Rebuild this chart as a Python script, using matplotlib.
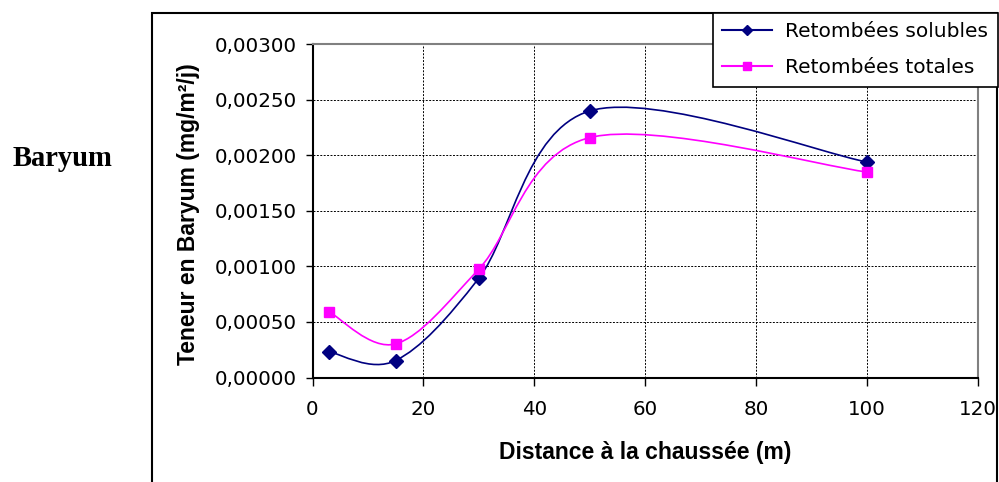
import numpy as np
import matplotlib.pyplot as plt
from matplotlib.path import Path
from matplotlib.patches import PathPatch, Rectangle
from matplotlib.lines import Line2D
from matplotlib.ticker import FuncFormatter, MultipleLocator

plt.rcParams['font.family'] = ['DejaVu Sans']

# donnees
distance = [3, 15, 30, 50, 100]
solubles = [0.000231, 0.000153, 0.000895, 0.00240, 0.00194]
totales = [0.000591, 0.000303, 0.000976, 0.00216, 0.00185]
labels = ["Retombées solubles", "Retombées totales"]
col_sol = "#000080"
col_tot = "#FF00FF"


def smooth_path(x, y):
    # courbe lissee type Excel (Bezier cubique)
    p = np.column_stack([x, y])
    n = len(p)
    verts = [p[0]]
    codes = [Path.MOVETO]
    for i in range(n - 1):
        p0 = p[max(i - 1, 0)]
        p3 = p[min(i + 2, n - 1)]
        c1 = p[i] + (p[i + 1] - p0) / 6
        c2 = p[i + 1] - (p3 - p[i]) / 6
        verts += [c1, c2, p[i + 1]]
        codes += [Path.CURVE4] * 3
    return Path(verts, codes)


W, H = 999, 482
fig = plt.figure(figsize=(W / 100, H / 100), dpi=100)
ax = fig.add_axes([312.5 / W, 1 - 377.5 / H, (978 - 312.5) / W, (377.5 - 44.3) / H])

for yv, col, mk, ms in [(solubles, col_sol, 'D', 7.5), (totales, col_tot, 's', 7.5)]:
    ax.add_patch(PathPatch(smooth_path(distance, yv), fill=False, edgecolor=col, lw=1.2, zorder=3))
    ax.plot(distance, yv, linestyle='none', marker=mk, color=col, ms=ms, zorder=4)

ax.set_xlim(0, 120)
ax.set_ylim(0, 0.003)
ax.xaxis.set_major_locator(MultipleLocator(20))
ax.yaxis.set_major_locator(MultipleLocator(0.0005))
ax.yaxis.set_major_formatter(FuncFormatter(lambda v, p: f"{v:.5f}".replace('.', ',')))
ax.grid(True, color='black', linestyle=(0, (2, 1.5)), lw=0.7)
ax.set_axisbelow(True)
for s in ['top', 'right']:
    ax.spines[s].set_color('#808080')
    ax.spines[s].set_linewidth(1.5)
for s in ['left', 'bottom']:
    ax.spines[s].set_color('black')
    ax.spines[s].set_linewidth(1.5)
ax.tick_params(axis='y', direction='out', length=5, width=1, pad=6, labelsize=14.3)
ax.tick_params(axis='x', direction='out', length=5.5, width=1, pad=11, labelsize=14.3)

lab_font = ['Liberation Sans', 'DejaVu Sans']
ax.set_xlabel("Distance à la chaussée (m)", fontsize=16.5, fontweight='bold', family=lab_font)
ax.xaxis.set_label_coords(645 / W, 1 - 441 / H, transform=fig.transFigure)
ax.set_ylabel("Teneur en Baryum (mg/m²/j)", fontsize=16.5, fontweight='bold', family=lab_font)
ax.yaxis.set_label_coords(200 / W, 1 - 214 / H, transform=fig.transFigure)

fig.text(13 / W, 1 - 165.5 / H, "Baryum", family=['Liberation Serif', 'DejaVu Serif'],
         fontweight='bold', fontsize=20.6, ha='left', va='baseline')

# cadre du graphique
fig.patches.append(Rectangle((152 / W, -0.05), (997 - 152) / W, 1.05 - 13 / H,
                             transform=fig.transFigure, fill=False, edgecolor='black', lw=1.5))

handles = [Line2D([], [], color=col_sol, marker='D', ms=5.5, lw=1.5),
           Line2D([], [], color=col_tot, marker='s', ms=6, lw=1.5)]
leg = fig.legend(handles, labels, loc='upper right', bbox_to_anchor=(997.5 / W, 1 - 12.5 / H),
                 fontsize=14.5, frameon=True, fancybox=False, edgecolor='black', framealpha=1,
                 borderaxespad=0, handlelength=2.5, handletextpad=0.65, borderpad=0.46,
                 labelspacing=0.88)
leg.get_frame().set_linewidth(1.2)

fig.savefig("out.png", dpi=100)
